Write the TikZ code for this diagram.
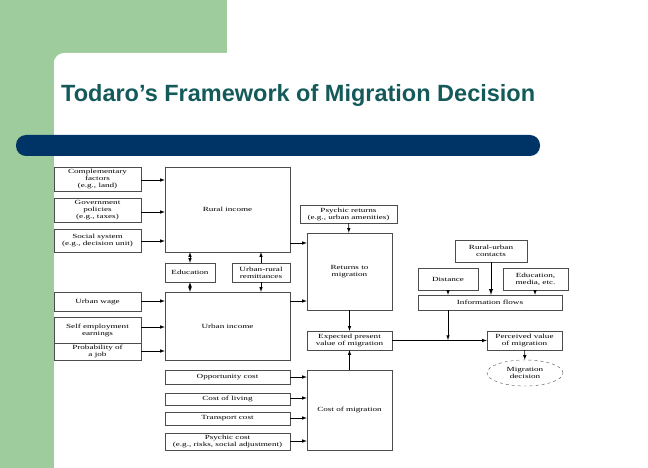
\documentclass[tikz,border=0pt]{standalone}
\usepackage{fontspec}
\setmainfont{Liberation Serif}
\newfontfamily\titlefont{Liberation Sans}
\newfontfamily\boxfont[FakeStretch=1.45]{Liberation Serif}
\usetikzlibrary{shapes.geometric}
\definecolor{slidegreen}{RGB}{158,204,156}
\definecolor{slideblue}{RGB}{0,51,102}
\definecolor{titleteal}{RGB}{20,90,90}
\newcommand{\bx}[6]{\node[box, minimum width={#4-#2}, minimum height={#5-#3}] (#1) at ({(#2+#4)/2},{(#3+#5)/2}) {#6};}
\begin{document}
\begin{tikzpicture}[x=1pt, y=-1pt,
  box/.style={draw=black!70, line width=0.4pt, inner sep=0pt, align=center, font=\boxfont\fontsize{6.3}{7}\selectfont},
  arr/.style={-latex, line width=0.6pt},
  darr/.style={latex-latex, line width=0.6pt}]
\useasboundingbox (0,0) rectangle (648,468);
% slide background
\fill[slidegreen] (0,0) rectangle (227,60);
\fill[slidegreen] (0,0) rectangle (54,468);
\fill[white, rounded corners=10pt] (54,53) rectangle (240,120);
\fill[slideblue, rounded corners=10pt] (16,135) rectangle (540,156);
\node[anchor=base west, text=titleteal, font=\titlefont\bfseries\fontsize{23.5}{28}\selectfont, inner sep=0pt] (title) at (61,102) {Todaro’s Framework of Migration Decision};
% rural side
\bx{comp}{54}{167}{141}{191}{Complementary\\factors\\(e.g., land)}
\bx{gov}{54}{198}{141}{222}{Government\\policies\\(e.g., taxes)}
\bx{social}{54}{229}{141}{252}{Social system\\(e.g., decision unit)}
\bx{rural}{165}{167}{290}{252}{Rural income}
\bx{edu}{165}{263}{215}{282}{Education}
\bx{remit}{232}{263}{290}{282}{Urban-rural\\remittances}
% urban side
\bx{wage}{54}{292}{141}{311}{Urban wage}
\bx{self}{54}{317}{141}{343}{Self employment\\earnings}
\bx{prob}{54}{343}{141}{360}{Probability of\\a job}
\bx{urban}{165}{292}{290}{360}{Urban income}
% costs
\bx{opp}{165}{370}{290}{384}{Opportunity cost}
\bx{living}{165}{393}{290}{405}{Cost of living}
\bx{trans}{165}{412}{290}{425}{Transport cost}
\bx{pcost}{165}{433}{290}{450}{Psychic cost\\(e.g., risks, social adjustment)}
\bx{cost}{307}{370}{392}{450}{Cost of migration}
% returns
\bx{psych}{300}{205}{397}{223}{Psychic returns\\(e.g., urban amenities)}
\bx{returns}{307}{233}{392}{310}{Returns to\\migration}
\bx{expected}{307}{331}{392}{350}{Expected present\\value of migration}
% information
\bx{contacts}{455}{240}{527}{262}{Rural-urban\\contacts}
\bx{dist}{418}{268}{478}{290}{Distance}
\bx{media}{503}{268}{568}{290}{Education,\\media, etc.}
\bx{info}{418}{295}{562}{310}{Information flows}
\bx{perceived}{487}{331}{562}{350}{Perceived value\\of migration}
\node[box, ellipse, dashed, minimum width=76, minimum height=26] (decision) at (525,373) {Migration\\decision};
% connectors
\foreach \s/\y in {comp/180, gov/212, social/241}
  \draw[arr] (\s.east |- 0,\y) -- (rural.west |- 0,\y);
\foreach \s/\y in {wage/301, self/327, prob/351}
  \draw[arr] (\s.east |- 0,\y) -- (urban.west |- 0,\y);
\foreach \s/\y in {opp/377, living/398, trans/418, pcost/441}
  \draw[arr] (\s.east |- 0,\y) -- (cost.west |- 0,\y);
\draw[darr] (edu.north) -- (edu.north |- rural.south);
\draw[darr] (edu.south) -- (edu.south |- urban.north);
\draw[arr] (remit.north) -- (remit.north |- rural.south);
\draw[arr] (remit.south) -- (remit.south |- urban.north);
\draw[arr] (rural.east |- 0,243) -- (returns.west |- 0,243);
\draw[arr] (urban.east |- 0,301) -- (returns.west |- 0,301);
\draw[arr] (psych) -- (returns);
\draw[arr] (returns) -- (expected);
\draw[arr] (cost) -- (expected);
\draw[arr] (expected) -- (perceived);
\draw[arr, line width=1pt] (contacts.south) -- (contacts.south |- info.north);
\draw[arr] (dist.south -| 448,0) -- (info.north -| 448,0);
\draw[arr] (media.south -| 535,0) -- (info.north -| 535,0);
\draw[arr] (info.south -| 448,0) -- (448,340);
\draw[arr] (perceived) -- (decision);
\end{tikzpicture}
\end{document}
